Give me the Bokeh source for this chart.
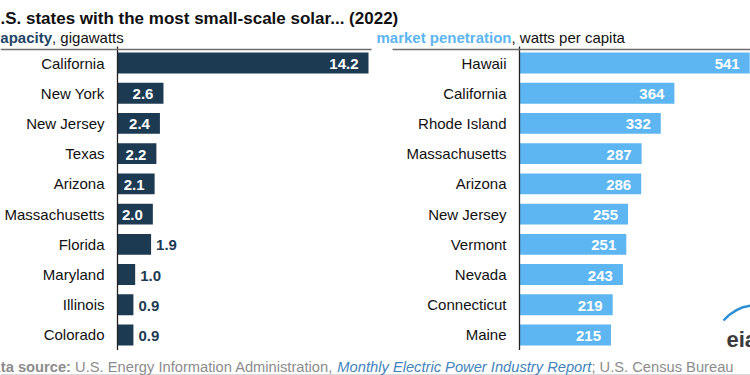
from bokeh.plotting import figure
from bokeh.models import Range1d, Label
from bokeh.core.properties import value
from bokeh.embed import file_html
from bokeh.resources import INLINE

# ---------------- data ----------------
cap_states = ["California", "New York", "New Jersey", "Texas", "Arizona",
              "Massachusetts", "Florida", "Maryland", "Illinois", "Colorado"]
cap_values = [14.2, 2.6, 2.4, 2.2, 2.1, 2.0, 1.9, 1.0, 0.9, 0.9]
cap_labels = ["14.2", "2.6", "2.4", "2.2", "2.1", "2.0", "1.9", "1.0", "0.9", "0.9"]

pen_states = ["Hawaii", "California", "Rhode Island", "Massachusetts", "Arizona",
              "New Jersey", "Vermont", "Nevada", "Connecticut", "Maine"]
pen_values = [541, 364, 332, 287, 286, 255, 251, 243, 219, 215]
pen_labels = ["541", "364", "332", "287", "286", "255", "251", "243", "219", "215"]

title_text = "U.S. states with the most small-scale solar... (2022)"
# ---------------- style ----------------
NAVY = "#1d3a53"
LIGHT = "#5db6f1"
GRAY = "#8c8c8c"
SRC_BLUE = "#4383bb"
FONT = "Liberation Sans"

W, H = 750, 375

# Arial-compatible advance widths (per 1000 em) for laying out mixed-style runs
_REG = {' ': 278, ',': 278, '.': 278, ':': 278, ';': 278, '-': 333,
        'A': 667, 'B': 667, 'C': 722, 'D': 722, 'E': 667, 'I': 278, 'M': 833,
        'P': 667, 'R': 722, 'S': 667, 'U': 722,
        'a': 556, 'b': 556, 'c': 500, 'd': 556, 'e': 556, 'f': 278, 'g': 556,
        'h': 556, 'i': 222, 'j': 222, 'k': 500, 'l': 222, 'm': 833, 'n': 556,
        'o': 556, 'p': 556, 'q': 556, 'r': 333, 's': 500, 't': 278, 'u': 556,
        'v': 500, 'w': 722, 'x': 500, 'y': 500, 'z': 500}
_BOLD = {' ': 278, ',': 278, '.': 278, ':': 333, ';': 333, '-': 333,
         'D': 722, 'S': 667, 'U': 722,
         'a': 556, 'b': 611, 'c': 556, 'd': 611, 'e': 556, 'f': 333, 'g': 611,
         'h': 611, 'i': 278, 'j': 278, 'k': 556, 'l': 278, 'm': 889, 'n': 611,
         'o': 611, 'p': 611, 'q': 611, 'r': 389, 's': 556, 't': 333, 'u': 611,
         'v': 556, 'w': 778, 'x': 556, 'y': 556, 'z': 500}


def tw(s, size, bold=False):
    tab = _BOLD if bold else _REG
    return sum(tab.get(ch, 556) for ch in s) * size / 1000.0


# pixel geometry of the two panels
CAP_ZERO, CAP_SCALE = 117.0, 251.0 / 14.2
PEN_ZERO, PEN_SCALE = 519.0, 0.4255
ROW0, ROW_STEP = 62.5, 30.22

p = figure(width=W, height=H, output_backend="svg", toolbar_location=None,
           x_range=Range1d(0, W), y_range=Range1d(H, 0),
           x_axis_location=None, y_axis_location=None,
           min_border=0, outline_line_color=None)
p.background_fill_color = "white"
p.border_fill_color = "white"
p.xgrid.grid_line_color = None
p.ygrid.grid_line_color = None

p.extra_x_ranges = {
    "cap": Range1d(-CAP_ZERO / CAP_SCALE, (W - CAP_ZERO) / CAP_SCALE),
    "pen": Range1d(-PEN_ZERO / PEN_SCALE, (W - PEN_ZERO) / PEN_SCALE),
}
p.extra_y_ranges = {"row": Range1d((H - ROW0) / ROW_STEP, -ROW0 / ROW_STEP)}


def panel(states, vals, labels, xr, color, inside_min):
    idx = list(range(len(states)))
    p.hbar(y=idx, left=0, right=vals, height=0.69, fill_color=color,
           line_color=None, x_range_name=xr, y_range_name="row")
    p.segment(x0=[0], x1=[0], y0=[-0.55], y1=[9.5], line_color="#222222",
              line_width=1.3, x_range_name=xr, y_range_name="row")
    p.text(x=[0] * len(idx), y=idx, text=states, x_offset=-13,
           text_align="right", text_baseline="middle",
           text_font=value(FONT), text_font_size="15px", text_color="#111111",
           x_range_name=xr, y_range_name="row")
    ins = [i for i in idx if vals[i] >= inside_min]
    out = [i for i in idx if vals[i] < inside_min]
    if ins:
        p.text(x=[vals[i] for i in ins], y=ins, text=[labels[i] for i in ins],
               x_offset=-10, y_offset=1, text_align="right", text_baseline="middle",
               text_font=value(FONT), text_font_style="bold",
               text_font_size="15px", text_color="white",
               x_range_name=xr, y_range_name="row")
    if out:
        p.text(x=[vals[i] for i in out], y=out, text=[labels[i] for i in out],
               x_offset=5, y_offset=1, text_align="left", text_baseline="middle",
               text_font=value(FONT), text_font_style="bold",
               text_font_size="15px", text_color=color,
               x_range_name=xr, y_range_name="row")


panel(cap_states, cap_values, cap_labels, "cap", NAVY, 2.0)
panel(pen_states, pen_values, pen_labels, "pen", LIGHT, 0)

# rules under the panel headings and at the bottom
p.segment(x0=[0, 392], x1=[371, W], y0=[49, 49], y1=[49, 49],
          line_color="#6e6e6e", line_width=1.5)
p.segment(x0=[0], x1=[W], y0=[374], y1=[374], line_color="#d9d9d9", line_width=1)


def lab(x, y, text, size, color, style="normal"):
    p.add_layout(Label(x=x, y=y, text=text, text_font=FONT,
                       text_font_size=f"{size}px", text_font_style=style,
                       text_color=color, text_baseline="alphabetic",
                       text_align="left"))


# title
lab(-12.3, 18, title_text, 17, "#111111", "bold")

# panel headings
x = -8.5
lab(x, 37, "capacity", 15, "#1f4566", "bold")
lab(x + tw("capacity", 15, True), 37, ", gigawatts", 15, "#111111")
x = 376
lab(x, 37, "market penetration", 15, LIGHT, "bold")
lab(x + tw("market penetration", 15, True), 37, ", watts per capita", 15, "#111111")

# source line
S = 14.7
x = -18.5
lab(x, 366, "Data source:", S, GRAY, "bold")
x += tw("Data source: ", S, True)
seg1 = "U.S. Energy Information Administration,"
lab(x, 366, seg1, S, GRAY)
x += tw(seg1 + " ", S)
seg2 = "Monthly Electric Power Industry Report"
lab(x, 366, seg2, S, SRC_BLUE, "italic")
x += tw(seg2, S)
lab(x, 366, "; U.S. Census Bureau", S, GRAY)

# eia logo (partially cut at the right edge)
p.bezier(x0=[723], y0=[320], x1=[754], y1=[305], cx0=[733], cy0=[309],
         cx1=[744], cy1=[305], line_color="#2b8fd6", line_width=2.5)
lab(726, 339, "eia", 22, "#3a3a3a", "bold")

open("out.html", "w").write(file_html(p, INLINE))
